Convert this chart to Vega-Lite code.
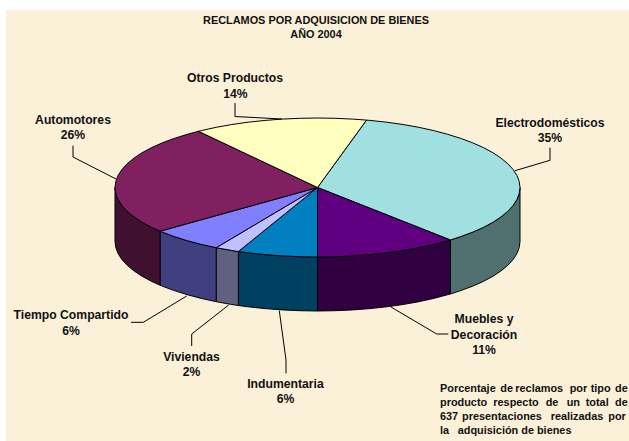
{
"$schema":"https://vega.github.io/schema/vega-lite/v6.json",
"width":629,"height":441,"padding":0,"autosize":{"type":"none"},"background":"white",
"config":{"view":{"stroke":null}},
"datasets":{
"panel":[{"x":-311.5,"x2":311.5,"y":-177.5,"y2":253.5}],
"pie":[
{"s":"Electrodomésticos","t":0,"x":0,"y":0},
{"s":"Electrodomésticos","t":284,"x":49,"y":-67.4},{"s":"Electrodomésticos","t":285,"x":52.4,"y":-67.1},{"s":"Electrodomésticos","t":290,"x":69.3,"y":-65.3},{"s":"Electrodomésticos","t":295,"x":85.6,"y":-63},{"s":"Electrodomésticos","t":300,"x":101.3,"y":-60.2},{"s":"Electrodomésticos","t":305,"x":116.2,"y":-56.9},{"s":"Electrodomésticos","t":310,"x":130.2,"y":-53.2},{"s":"Electrodomésticos","t":315,"x":143.2,"y":-49.1},{"s":"Electrodomésticos","t":320,"x":155.1,"y":-44.7},{"s":"Electrodomésticos","t":325,"x":165.9,"y":-39.9},{"s":"Electrodomésticos","t":330,"x":175.4,"y":-34.8},{"s":"Electrodomésticos","t":335,"x":183.5,"y":-29.4},{"s":"Electrodomésticos","t":340,"x":190.3,"y":-23.8},{"s":"Electrodomésticos","t":345,"x":195.6,"y":-18},{"s":"Electrodomésticos","t":350,"x":199.4,"y":-12.1},{"s":"Electrodomésticos","t":355,"x":201.7,"y":-6.1},
{"s":"Electrodomésticos","t":360,"x":202.5,"y":0,"y2":54},{"s":"Electrodomésticos","t":365,"x":201.7,"y":6.1,"y2":60.1},{"s":"Electrodomésticos","t":370,"x":199.4,"y":12.1,"y2":66.1},{"s":"Electrodomésticos","t":375,"x":195.6,"y":18,"y2":72},{"s":"Electrodomésticos","t":380,"x":190.3,"y":23.8,"y2":77.8},{"s":"Electrodomésticos","t":385,"x":183.5,"y":29.4,"y2":83.4},{"s":"Electrodomésticos","t":390,"x":175.4,"y":34.8,"y2":88.8},{"s":"Electrodomésticos","t":395,"x":165.9,"y":39.9,"y2":93.9},{"s":"Electrodomésticos","t":400,"x":155.1,"y":44.7,"y2":98.7},{"s":"Electrodomésticos","t":405,"x":143.2,"y":49.1,"y2":103.1},{"s":"Electrodomésticos","t":409,"x":132.9,"y":52.5,"y2":106.5},
{"s":"Electrodomésticos","t":999,"x":0,"y":0},
{"s":"Muebles y Decoración","t":0,"x":0,"y":0},
{"s":"Muebles y Decoración","t":49,"x":132.9,"y":52.5,"y2":106.5},{"s":"Muebles y Decoración","t":50,"x":130.2,"y":53.2,"y2":107.2},{"s":"Muebles y Decoración","t":55,"x":116.2,"y":56.9,"y2":110.9},{"s":"Muebles y Decoración","t":60,"x":101.3,"y":60.2,"y2":114.2},{"s":"Muebles y Decoración","t":65,"x":85.6,"y":63,"y2":117},{"s":"Muebles y Decoración","t":70,"x":69.3,"y":65.3,"y2":119.3},{"s":"Muebles y Decoración","t":75,"x":52.4,"y":67.1,"y2":121.1},{"s":"Muebles y Decoración","t":80,"x":35.2,"y":68.4,"y2":122.4},{"s":"Muebles y Decoración","t":85,"x":17.7,"y":69.2,"y2":123.2},{"s":"Muebles y Decoración","t":90,"x":0,"y":69.5,"y2":123.5},
{"s":"Muebles y Decoración","t":999,"x":0,"y":0},
{"s":"Indumentaria","t":0,"x":0,"y":0},
{"s":"Indumentaria","t":90,"x":0,"y":69.5,"y2":123.5},{"s":"Indumentaria","t":95,"x":-17.7,"y":69.2,"y2":123.2},{"s":"Indumentaria","t":100,"x":-35.2,"y":68.4,"y2":122.4},{"s":"Indumentaria","t":105,"x":-52.4,"y":67.1,"y2":121.1},{"s":"Indumentaria","t":110,"x":-69.3,"y":65.3,"y2":119.3},{"s":"Indumentaria","t":113,"x":-79.1,"y":64,"y2":118},
{"s":"Indumentaria","t":999,"x":0,"y":0},
{"s":"Viviendas","t":0,"x":0,"y":0},
{"s":"Viviendas","t":113,"x":-79.1,"y":64,"y2":118},{"s":"Viviendas","t":115,"x":-85.6,"y":63,"y2":117},{"s":"Viviendas","t":120,"x":-101.3,"y":60.2,"y2":114.2},
{"s":"Viviendas","t":999,"x":0,"y":0},
{"s":"Tiempo Compartido","t":0,"x":0,"y":0},
{"s":"Tiempo Compartido","t":120,"x":-101.3,"y":60.2,"y2":114.2},{"s":"Tiempo Compartido","t":125,"x":-116.2,"y":56.9,"y2":110.9},{"s":"Tiempo Compartido","t":130,"x":-130.2,"y":53.2,"y2":107.2},{"s":"Tiempo Compartido","t":135,"x":-143.2,"y":49.1,"y2":103.1},{"s":"Tiempo Compartido","t":140,"x":-155.1,"y":44.7,"y2":98.7},{"s":"Tiempo Compartido","t":141,"x":-157.4,"y":43.7,"y2":97.7},
{"s":"Tiempo Compartido","t":999,"x":0,"y":0},
{"s":"Automotores","t":0,"x":0,"y":0},
{"s":"Automotores","t":141,"x":-157.4,"y":43.7,"y2":97.7},{"s":"Automotores","t":145,"x":-165.9,"y":39.9,"y2":93.9},{"s":"Automotores","t":150,"x":-175.4,"y":34.8,"y2":88.8},{"s":"Automotores","t":155,"x":-183.5,"y":29.4,"y2":83.4},{"s":"Automotores","t":160,"x":-190.3,"y":23.8,"y2":77.8},{"s":"Automotores","t":165,"x":-195.6,"y":18,"y2":72},{"s":"Automotores","t":170,"x":-199.4,"y":12.1,"y2":66.1},{"s":"Automotores","t":175,"x":-201.7,"y":6.1,"y2":60.1},{"s":"Automotores","t":180,"x":-202.5,"y":0,"y2":54},
{"s":"Automotores","t":185,"x":-201.7,"y":-6.1},{"s":"Automotores","t":190,"x":-199.4,"y":-12.1},{"s":"Automotores","t":195,"x":-195.6,"y":-18},{"s":"Automotores","t":200,"x":-190.3,"y":-23.8},{"s":"Automotores","t":205,"x":-183.5,"y":-29.4},{"s":"Automotores","t":210,"x":-175.4,"y":-34.8},{"s":"Automotores","t":215,"x":-165.9,"y":-39.9},{"s":"Automotores","t":220,"x":-155.1,"y":-44.7},{"s":"Automotores","t":225,"x":-143.2,"y":-49.1},{"s":"Automotores","t":230,"x":-130.2,"y":-53.2},{"s":"Automotores","t":234,"x":-119,"y":-56.2},
{"s":"Automotores","t":999,"x":0,"y":0},
{"s":"Otros Productos","t":0,"x":0,"y":0},
{"s":"Otros Productos","t":234,"x":-119,"y":-56.2},{"s":"Otros Productos","t":235,"x":-116.2,"y":-56.9},{"s":"Otros Productos","t":240,"x":-101.3,"y":-60.2},{"s":"Otros Productos","t":245,"x":-85.6,"y":-63},{"s":"Otros Productos","t":250,"x":-69.3,"y":-65.3},{"s":"Otros Productos","t":255,"x":-52.4,"y":-67.1},{"s":"Otros Productos","t":260,"x":-35.2,"y":-68.4},{"s":"Otros Productos","t":265,"x":-17.7,"y":-69.2},{"s":"Otros Productos","t":270,"x":0,"y":-69.5},{"s":"Otros Productos","t":275,"x":17.7,"y":-69.2},{"s":"Otros Productos","t":280,"x":35.2,"y":-68.4},{"s":"Otros Productos","t":284,"x":49,"y":-67.4},
{"s":"Otros Productos","t":999,"x":0,"y":0}
],
"leaders":[
{"s":"Otros Productos","o":1,"x":-82.5,"y":-84.5},{"s":"Otros Productos","o":2,"x":-82.5,"y":-71},{"s":"Otros Productos","o":3,"x":-35.5,"y":-68.5},
{"s":"Automotores","o":1,"x":-244.5,"y":-41.8},{"s":"Automotores","o":2,"x":-244.5,"y":-30.5},{"s":"Automotores","o":3,"x":-201.5,"y":-8.5},
{"s":"Electrodomésticos","o":1,"x":232.5,"y":-39.8},{"s":"Electrodomésticos","o":2,"x":232.5,"y":-27.2},{"s":"Electrodomésticos","o":3,"x":197.5,"y":-16.8},
{"s":"Tiempo Compartido","o":1,"x":-186.5,"y":134.8},{"s":"Tiempo Compartido","o":2,"x":-174.2,"y":134.8},{"s":"Tiempo Compartido","o":3,"x":-130.8,"y":108.5},
{"s":"Viviendas","o":1,"x":-125.8,"y":158.5},{"s":"Viviendas","o":2,"x":-125.8,"y":146.5},{"s":"Viviendas","o":3,"x":-88.8,"y":117.5},
{"s":"Indumentaria","o":1,"x":-31.5,"y":185.8},{"s":"Indumentaria","o":2,"x":-31.5,"y":172.5},{"s":"Indumentaria","o":3,"x":-38.2,"y":123.2},
{"s":"Muebles y Decoración","o":1,"x":130.8,"y":146.5},{"s":"Muebles y Decoración","o":2,"x":119.2,"y":146.5},{"s":"Muebles y Decoración","o":3,"x":73.5,"y":119.5}
],
"titles":[{"text":"RECLAMOS POR ADQUISICION DE BIENES","x":-1.5,"y":-166.5},{"text":"AÑO 2004","x":-1.5,"y":-152.5}],
"labels":[
{"text":"Otros Productos","x":-82.5,"y":-109.5},{"text":"14%","x":-82,"y":-93.5},
{"text":"Automotores","x":-244.5,"y":-68},{"text":"26%","x":-244.5,"y":-52.5},
{"text":"Electrodomésticos","x":232.5,"y":-65},{"text":"35%","x":232.5,"y":-49.5},
{"text":"Tiempo Compartido","x":-246.5,"y":127.5},{"text":"6%","x":-246.5,"y":143.5},
{"text":"Viviendas","x":-126,"y":169.5},{"text":"2%","x":-126,"y":184.5},
{"text":"Indumentaria","x":-32,"y":196.5},{"text":"6%","x":-32,"y":211.5},
{"text":"Muebles y","x":166.5,"y":131},{"text":"Decoración","x":166.5,"y":147.5},{"text":"11%","x":166.5,"y":162.5}
],
"note":[
{"text":"Porcentaje","x":122.5,"y":201.5},{"text":"de","x":182.8,"y":201.5},{"text":"reclamos","x":197.8,"y":201.5},{"text":"por","x":252.2,"y":201.5},{"text":"tipo","x":273.2,"y":201.5},{"text":"de","x":297.5,"y":201.5},
{"text":"producto","x":122.5,"y":215.8},{"text":"respecto","x":175.8,"y":215.8},{"text":"de","x":228.2,"y":215.8},{"text":"un","x":249.2,"y":215.8},{"text":"total","x":268.2,"y":215.8},{"text":"de","x":297.5,"y":215.8},
{"text":"637","x":122.5,"y":229.8},{"text":"presentaciones","x":144.5,"y":229.8},{"text":"realizadas","x":233.2,"y":229.8},{"text":"por","x":290.8,"y":229.8},
{"text":"la","x":122.5,"y":243.2},{"text":"adquisición de bienes","x":140.2,"y":243.2}
]
},
"encoding":{
"x":{"field":"x","type":"quantitative","axis":null,"scale":{"domain":[-317.5,311.5],"nice":false,"zero":false}},
"y":{"field":"y","type":"quantitative","axis":null,"scale":{"domain":[-187.5,253.5],"nice":false,"zero":false,"reverse":true}}
},
"layer":[
{"data":{"name":"panel"},"mark":{"type":"rect","color":"#FBF0D8"},"encoding":{"x2":{"field":"x2"},"y2":{"field":"y2"}}},
{"data":{"name":"pie"},"transform":[{"filter":"isValid(datum.y2)"}],
 "mark":{"type":"area","stroke":"black","strokeWidth":1,"orient":"vertical"},
 "encoding":{"y2":{"field":"y2"},
  "fill":{"field":"s","type":"nominal","legend":null,"scale":{"domain":["Electrodomésticos","Muebles y Decoración","Indumentaria","Viviendas","Tiempo Compartido","Automotores"],"range":["#507070","#300040","#004060","#606080","#404080","#401030"]}}}},
{"data":{"name":"pie"},
 "mark":{"type":"line","stroke":"black","strokeWidth":1,"strokeJoin":"round"},
 "encoding":{"order":{"field":"t","type":"quantitative"},"detail":{"field":"s"},
  "fill":{"field":"s","type":"nominal","legend":null,"scale":{"domain":["Electrodomésticos","Muebles y Decoración","Indumentaria","Viviendas","Tiempo Compartido","Automotores","Otros Productos"],"range":["#A0E0E0","#600080","#0080C0","#C0C0FF","#8080FF","#802060","#FFFFC0"]}}}},
{"data":{"name":"leaders"},"mark":{"type":"line","stroke":"black","strokeWidth":1},
 "encoding":{"order":{"field":"o","type":"quantitative"},"detail":{"field":"s"}}},
{"data":{"name":"titles"},"mark":{"type":"text","font":"Liberation Sans","fontWeight":"bold","fontSize":10.9,"align":"center","baseline":"middle","color":"#111111"},"encoding":{"text":{"field":"text"}}},
{"data":{"name":"labels"},"mark":{"type":"text","font":"Liberation Sans","fontWeight":"bold","fontSize":12.2,"align":"center","baseline":"middle","color":"#111111"},"encoding":{"text":{"field":"text"}}},
{"data":{"name":"note"},"mark":{"type":"text","font":"Liberation Sans","fontWeight":"bold","fontSize":10.9,"align":"left","baseline":"middle","color":"#111111"},"encoding":{"text":{"field":"text"}}}
],
"resolve":{"scale":{"fill":"independent"}}
}
